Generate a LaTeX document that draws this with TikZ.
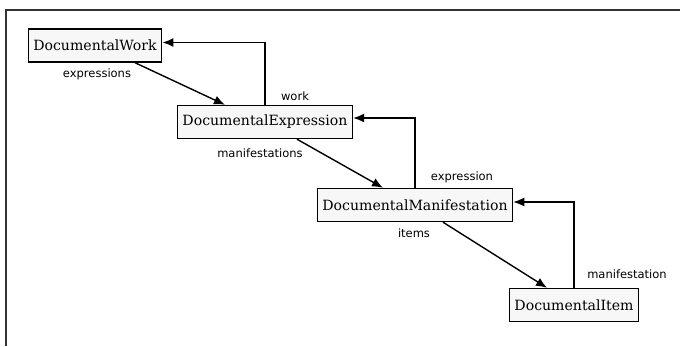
\documentclass[tikz,border=0pt]{standalone}
\usepackage{fontspec}
\newfontfamily\labelfont{DejaVu Sans}
\newfontfamily\boxfont{DejaVu Serif}
\usetikzlibrary{calc, arrows.meta}

\tikzset{
	classbox/.style = {draw, line width=1.4pt, fill=gray!6, minimum height=33pt, inner xsep=5pt, font=\boxfont\fontsize{14.1}{17}\selectfont},
	rolelabel/.style = {font=\labelfont\fontsize{11.5}{13}\selectfont, inner sep=0pt},
	link/.style = {line width=1.4pt, -{Latex[length=11pt, width=9pt]}}
}

\begin{document}
\begin{tikzpicture}[x=1pt, y=1pt]
	\useasboundingbox (0,0) rectangle (680,-346);
	\draw [line width=1.2pt, black!80] (6,-346) -- (6,-10) -- (680,-10);
	
	\node [classbox] (work) at (95,-45.5) {DocumentalWork};
	\node [classbox] (expr) at (265,-122) {DocumentalExpression};
	\node [classbox] (manif) at (415,-205) {DocumentalManifestation};
	\node [classbox] (item) at (574,-305) {DocumentalItem};
	
	\draw [link] ([xshift=40pt]work.south) -- ([xshift=-40pt]expr.north);
	\draw [link] (expr.north) |- ([yshift=3pt]work.east);
	\node [rolelabel] (expressions) at (97,-74) {expressions};
	\node [rolelabel] (wk) at (295,-96) {work};
	
	\draw [link] ([xshift=32pt]expr.south) -- ([xshift=-32pt]manif.north);
	\draw [link] (manif.north) |- ([yshift=4pt]expr.east);
	\node [rolelabel] (manifestations) at (260,-153) {manifestations};
	\node [rolelabel] (expression) at (462,-177) {expression};
	
	\draw [link] ([xshift=28pt]manif.south) -- ([xshift=-27pt]item.north);
	\draw [link] (item.north) |- ([yshift=3pt]manif.east);
	\node [rolelabel] (items) at (414,-233) {items};
	\node [rolelabel] (manifestation) at (627,-274) {manifestation};
\end{tikzpicture}
\end{document}
